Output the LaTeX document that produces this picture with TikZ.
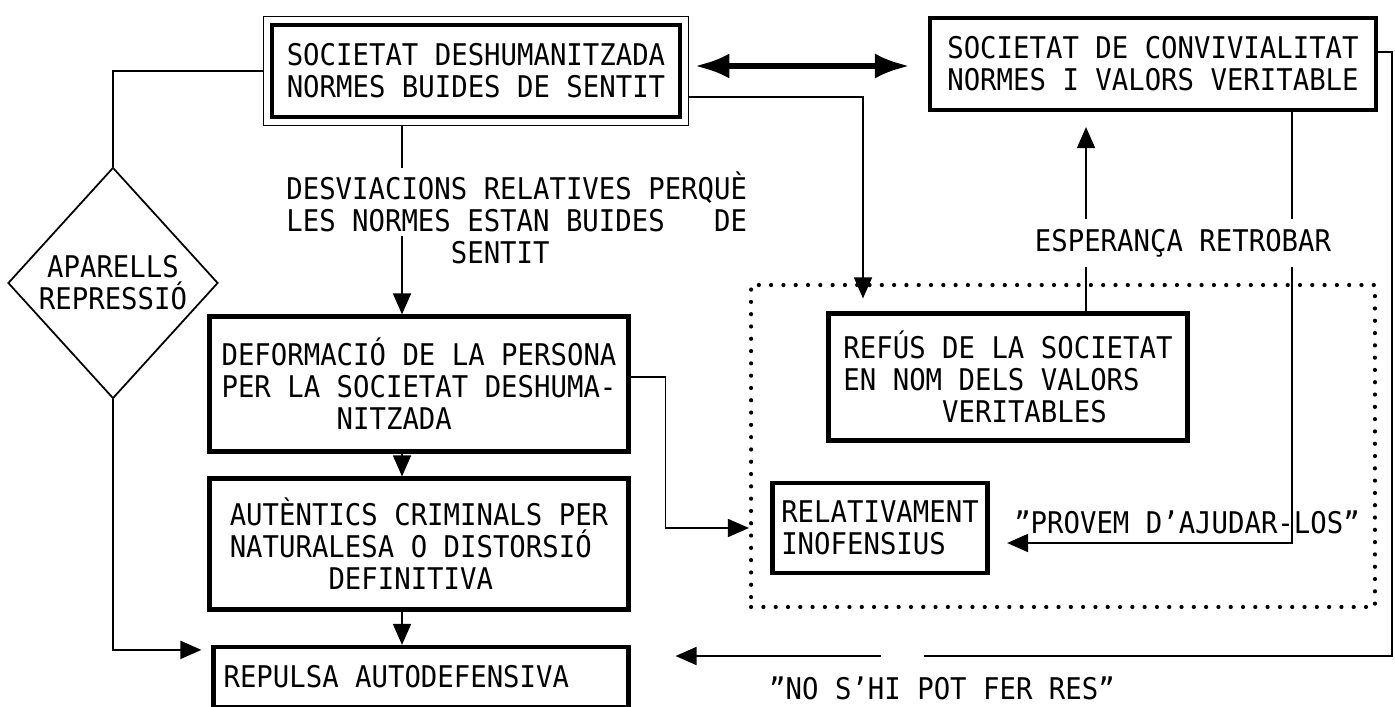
\documentclass[tikz,border=0pt]{standalone}
\usepackage{fontspec}
\setmainfont{DejaVu Sans Mono}[FakeStretch=0.915]
\usetikzlibrary{arrows.meta, shapes.geometric, fit, calc}
\newcommand{\skipchars}[1]{\hspace*{#1\fontcharwd\font`M}}
\newcommand{\boxfont}{\fontsize{17}{18.2}\selectfont}

\tikzset{
  box/.style={draw, line width=2.4pt, align=left, inner sep=0pt},
  frame/.style={draw, line width=1pt, inner sep=0.13cm},
  link/.style={line width=1pt},
  arr/.style={link, -{Triangle[length=0.42cm, width=0.36cm]}},
  dbl/.style={line width=3.4pt, {Latex[length=0.7cm, width=0.5cm]}-{Latex[length=0.7cm, width=0.5cm]}},
  dotbox/.style={draw, line width=2.4pt, line cap=round, dash pattern=on 0pt off 7pt},
  note/.style={align=left, inner sep=0pt}
}

\begin{document}
\begin{tikzpicture}[x=0.02cm, y=-0.02cm, font=\boxfont]
\useasboundingbox (0,0) rectangle (1395,706);

% dotted group on the right
\node[dotbox, minimum width=12.48cm, minimum height=6.44cm] (grp) at (1063,446) {};

% boxes
\node[box, minimum width=8.16cm, minimum height=1.84cm] (soc) at (476,71)
  {SOCIETAT DESHUMANITZADA\\NORMES BUIDES DE SENTIT};
\node[frame, fit=(soc)] (socf) {};
\node[box, minimum width=8.92cm, minimum height=1.84cm] (conv) at (1153,64)
  {SOCIETAT DE CONVIVIALITAT\\NORMES I VALORS VERITABLE};
\node[draw, link, diamond, minimum width=4.2cm, minimum height=4.62cm, inner sep=0pt, align=center] (aparells) at (113,283)
  {APARELLS\\REPRESSIÓ};
\node[box, minimum width=8.38cm, minimum height=2.7cm] (deform) at (419,384)
  {DEFORMACIÓ DE LA PERSONA\\PER LA SOCIETAT DESHUMA-\\\skipchars{7}NITZADA};
\node[box, minimum width=8.38cm, minimum height=2.62cm] (auth) at (419,544)
  {AUTÈNTICS CRIMINALS PER\\NATURALESA O DISTORSIÓ\\\skipchars{6}DEFINITIVA};
\node[box, minimum width=8.3cm, minimum height=1.2cm] (repulsa) at (421,677)
  {REPULSA AUTODEFENSIVA\skipchars{3}};
\node[box, minimum width=7.18cm, minimum height=2.54cm] (refus) at (1008,377)
  {REFÚS DE LA SOCIETAT\\EN NOM DELS VALORS\\\skipchars{6}VERITABLES};
\node[box, minimum width=4.3cm, minimum height=1.8cm] (relat) at (880,528)
  {RELATIVAMENT\\INOFENSIUS};

% texts on the connectors
\node[note, anchor=west] (desv) at (286,218)
  {DESVIACIONS RELATIVES PERQUÈ\\LES NORMES ESTAN BUIDES\skipchars{3}DE\\\skipchars{10}SENTIT};
\node[note] (provem) at (1187,522) {"PROVEM D'AJUDAR-LOS"};
\node[note] (nores) at (942,688) {"NO S'HI POT FER RES"};

% helper coordinates
\coordinate (mx) at (402,0);
\coordinate (qx) at (863,0);
\coordinate (ex) at (1086,0);
\coordinate (pv) at (1292,543);
\coordinate (rc) at (1392,656);
\coordinate (gapr) at (924,656);
\coordinate (gapl) at (881,656);

% connectors
\draw[dbl, shorten >=0.36cm, shorten <=0.1cm] ([yshift=0.1cm]socf.east) -- ([yshift=0.1cm]socf.east -| conv.west);
\draw[link] (socf.west) -| (aparells.north);
\draw[arr] (aparells.south) |- ([xshift=-0.2cm, yshift=-0.1cm]repulsa.north west);
\draw[link] (socf.south -| mx) -- ([yshift=1.0cm]desv.center -| mx);
\draw[arr] ([yshift=-0.36cm]desv.center -| mx) -- (deform.north -| mx);
\draw[arr] (deform.south -| mx) -- (auth.north -| mx);
\draw[arr] (auth.south -| mx) -- (repulsa.north -| mx);
\draw[arr] ([yshift=-0.52cm]socf.east) -| ([yshift=0.26cm]refus.north -| qx);
\draw[arr] ([yshift=0.14cm]deform.east) -- ++(0.7cm,0) |- (grp.west |- relat);
\draw[arr] (refus.north -| ex) -- ([yshift=-0.3cm]conv.south -| ex);
\draw[arr] (conv.south -| pv) -- (pv) -- ([xshift=0.35cm]relat.east |- pv);
\draw[link] ([yshift=0.24cm]conv.east) -| (rc) -- (gapr);
\draw[arr] (gapl) -- ([xshift=0.9cm]repulsa.east |- gapl);

% label that cuts the two lines
\node[note, fill=white, inner xsep=0pt, inner ysep=0.2cm] (esper) at (1183,243) {ESPERANÇA RETROBAR};
\end{tikzpicture}
\end{document}
